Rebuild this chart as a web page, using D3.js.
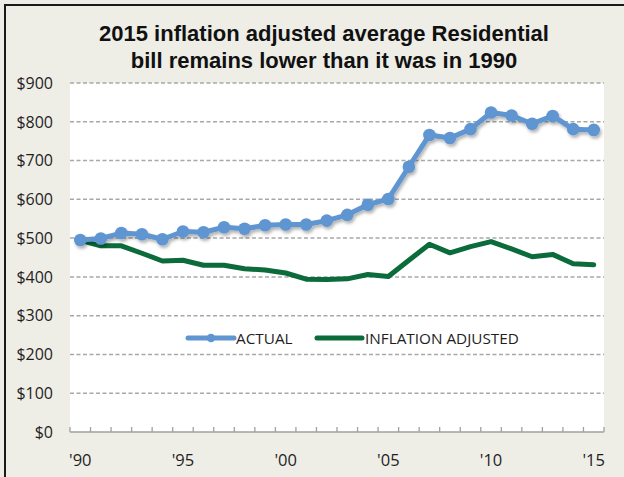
<!DOCTYPE html>
<html><head><meta charset="utf-8">
<script src="https://cdn.jsdelivr.net/npm/d3@7"></script>
<style>body{margin:0;background:#fff}svg{display:block}</style>
</head><body><svg id="c" width="624" height="477"></svg>
<script>
const years = d3.range(1990, 2016);
const yearLabels = ["'90","'95","'00","'05","'10","'15"];
const actual = [495,499,513,510,497,517,515,528,524,533,535,535,545,560,586,601,684,766,758,781,824,816,795,815,781,779];
const adjusted = [494,480,480,461,441,443,430,430,421,418,410,394,393,395,406,401,443,484,462,478,491,472,452,458,434,431];
const yTicks = [0,100,200,300,400,500,600,700,800,900];
const titleLines = ["2015 inflation adjusted average Residential","bill remains lower than it was in 1990"];
const seriesNames = ["ACTUAL","INFLATION ADJUSTED"];

(function(){
const svg = d3.select("#c");
const W=624,H=477;
const blue="#5f95d0", green="#0b6b3b", bg="#eeede6";
const pL=70,pR=604,pT=83,pB=432;

svg.append("rect").attr("width",W).attr("height",H).attr("fill",bg);
svg.append("path").attr("d",`M5,${H} V5 H${W}`).attr("fill","none").attr("stroke","#1a1a1a").attr("stroke-width",2);

const defs=svg.append("defs");
const f=defs.append("filter").attr("id","sh").attr("x","-50%").attr("y","-50%").attr("width","200%").attr("height","200%");
f.append("feDropShadow").attr("dx",1.5).attr("dy",2.5).attr("stdDeviation",1.8).attr("flood-color","#000").attr("flood-opacity",0.3);

svg.append("rect").attr("x",pL).attr("y",pT).attr("width",pR-pL).attr("height",pB-pT).attr("fill","#fff");

const x=d3.scaleBand().domain(years).range([pL,pR]);
const y=d3.scaleLinear().domain([0,900]).range([pB,pT]);
const cx=d=>x(d)+x.bandwidth()/2;

svg.append("g").selectAll("line").data(yTicks.filter(v=>v>0)).join("line")
 .attr("x1",pL).attr("x2",pR).attr("y1",d=>y(d)).attr("y2",d=>y(d))
 .attr("stroke","#a8a8a8").attr("stroke-width",1.5).attr("stroke-dasharray","4,2.5");

svg.append("g").selectAll("text").data(yTicks).join("text")
 .attr("x",53).attr("y",d=>y(d)).attr("dy","0.36em").attr("text-anchor","end")
 .attr("font-family","Open Sans").attr("font-size",16).attr("fill","#1e1e1e")
 .text(d=>"$"+d);

const xa=svg.append("g");
xa.append("line").attr("x1",pL).attr("x2",pR).attr("y1",pB).attr("y2",pB).attr("stroke","#a0a0a0").attr("stroke-width",1.5);
const bounds=years.map(d=>x(d)).concat([pR]);
xa.selectAll("line.t").data(bounds).join("line").attr("class","t")
 .attr("x1",d=>d).attr("x2",d=>d).attr("y1",pB-5).attr("y2",pB).attr("stroke","#a0a0a0").attr("stroke-width",1.3);
xa.selectAll("text").data(yearLabels).join("text")
 .attr("x",(d,i)=>cx(1990+5*i)).attr("y",460).attr("dy","0.36em").attr("text-anchor","middle")
 .attr("font-family","Open Sans").attr("font-size",16.5).attr("fill","#1e1e1e").text(d=>d);

const line=d3.line().x((d,i)=>cx(years[i])).y(d=>y(d));
svg.append("path").datum(adjusted).attr("d",line).attr("fill","none").attr("stroke",green).attr("stroke-width",5).attr("stroke-linejoin","round").attr("stroke-linecap","round");
const ga=svg.append("g").attr("filter","url(#sh)");
ga.append("path").datum(actual).attr("d",line).attr("fill","none").attr("stroke",blue).attr("stroke-width",5).attr("stroke-linejoin","round");
ga.selectAll("circle").data(actual).join("circle").attr("cx",(d,i)=>cx(years[i])).attr("cy",d=>y(d)).attr("r",6.3).attr("fill",blue);

const ly=338;
svg.append("line").attr("x1",188).attr("x2",234).attr("y1",ly).attr("y2",ly).attr("stroke",blue).attr("stroke-width",5).attr("stroke-linecap","round");
svg.append("circle").attr("cx",211).attr("cy",ly).attr("r",4.3).attr("fill",blue);
svg.append("text").attr("x",236).attr("y",ly).attr("dy","0.36em").attr("font-family","Open Sans").attr("font-size",15.3).attr("fill","#1e1e1e").text(seriesNames[0]);
svg.append("line").attr("x1",317).attr("x2",362).attr("y1",ly).attr("y2",ly).attr("stroke",green).attr("stroke-width",5).attr("stroke-linecap","round");
svg.append("text").attr("x",365).attr("y",ly).attr("dy","0.36em").attr("font-family","Open Sans").attr("font-size",15.3).attr("fill","#1e1e1e").text(seriesNames[1]);

svg.append("g").selectAll("text").data(titleLines).join("text")
 .attr("x",324).attr("y",(d,i)=>33+27*i).attr("dy","0.36em").attr("text-anchor","middle")
 .attr("font-family","Liberation Sans, Arial").attr("font-weight","bold").attr("font-size",22).attr("fill","#111").text(d=>d);
})();
</script></body></html>
